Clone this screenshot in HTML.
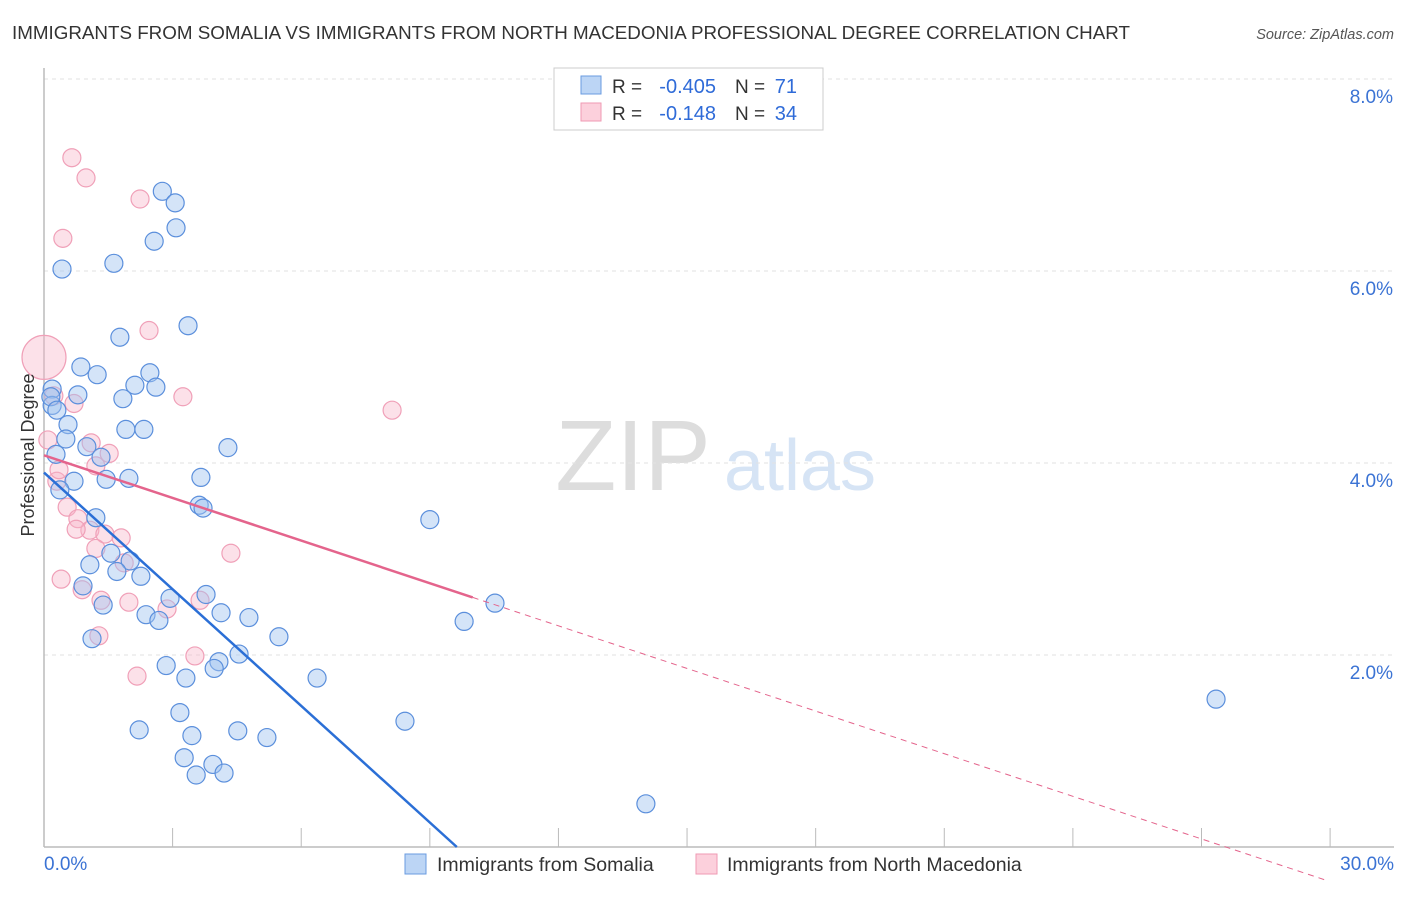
<!DOCTYPE html>
<html><head><meta charset="utf-8"><style>
body{margin:0;background:#fff;font-family:"Liberation Sans",sans-serif;}
svg text{font-family:"Liberation Sans",sans-serif;}
</style></head><body>
<svg id="chart" width="1406" height="892">
<text x="12" y="39" font-size="18.8" fill="#333">IMMIGRANTS FROM SOMALIA VS IMMIGRANTS FROM NORTH MACEDONIA PROFESSIONAL DEGREE CORRELATION CHART</text>
<text x="1394" y="39" font-size="14.5" fill="#555" font-style="italic" text-anchor="end">Source: ZipAtlas.com</text>
<text x="633" y="490" font-size="100" fill="#ddd" font-family="Liberation Serif" text-anchor="middle">ZIP</text>
<text x="800" y="490" font-size="72" fill="#d6e4f5" text-anchor="middle">atlas</text>
<g id="grid"></g>
<g id="axes"></g>
<g id="points"></g>
<g id="trends"></g>
<text transform="translate(34,455) rotate(-90)" font-size="18" fill="#333" text-anchor="middle">Professional Degree</text>
<g>
<rect x="554" y="68" width="269" height="62" fill="#fff" stroke="#ccc"/>
<rect x="581" y="76" width="20" height="18" fill="#bcd5f5" stroke="#6a9be0"/>
<rect x="581" y="103" width="20" height="18" fill="#fcd0dc" stroke="#ef9ab3"/>
<text x="612" y="93" font-size="19" fill="#333">R =</text>
<text x="716" y="93" font-size="20" fill="#2f6bd8" text-anchor="end">-0.405</text>
<text x="735" y="93" font-size="19" fill="#333">N =</text>
<text x="797" y="93" font-size="20" fill="#2f6bd8" text-anchor="end">71</text>
<text x="612" y="120" font-size="19" fill="#333">R =</text>
<text x="716" y="120" font-size="20" fill="#2f6bd8" text-anchor="end">-0.148</text>
<text x="735" y="120" font-size="19" fill="#333">N =</text>
<text x="797" y="120" font-size="20" fill="#2f6bd8" text-anchor="end">34</text>
</g>
<g>
<rect x="405" y="854" width="21" height="20" fill="#bcd5f5" stroke="#6a9be0"/>
<text x="437" y="871" font-size="19.5" fill="#333">Immigrants from Somalia</text>
<rect x="696" y="854" width="21" height="20" fill="#fcd0dc" stroke="#ef9ab3"/>
<text x="727" y="871" font-size="19.5" fill="#333">Immigrants from North Macedonia</text>
</g>
</svg>
<script>
const xTicks=[0,3,6,9,12,15,18,21,24,27,30];
const yTicks=[2,4,6,8];
const yTickLabels=["2.0%","4.0%","6.0%","8.0%"];
const somaliaX=[2.76,3.06,3.08,2.57,0.42,1.63,3.36,1.77,0.86,1.24,2.47,2.12,2.61,1.84,0.79,0.19,0.19,0.56,1.91,2.33,0.51,1.00,1.33,4.29,0.28,3.66,1.98,1.45,0.70,0.37,3.62,3.71,9.00,1.21,1.56,2.01,2.26,1.70,1.07,0.91,3.78,2.94,1.38,4.13,4.78,2.38,2.68,5.48,1.12,10.52,9.80,4.55,4.08,3.97,2.85,3.31,6.37,3.17,8.42,2.22,3.45,4.52,5.20,3.27,3.94,4.20,3.55,14.04,27.34,0.16,0.3];
const somaliaY=[6.83,6.71,6.45,6.31,6.02,6.08,5.43,5.31,5.00,4.92,4.94,4.81,4.79,4.67,4.71,4.77,4.60,4.40,4.35,4.35,4.25,4.17,4.06,4.16,4.09,3.85,3.84,3.83,3.81,3.72,3.56,3.53,3.41,3.43,3.06,2.98,2.82,2.87,2.94,2.72,2.63,2.59,2.52,2.44,2.39,2.42,2.36,2.19,2.17,2.54,2.35,2.01,1.93,1.86,1.89,1.76,1.76,1.40,1.31,1.22,1.16,1.21,1.14,0.93,0.86,0.77,0.75,0.45,1.54,4.69,4.55];
const macedX=[0.65,0.98,2.24,0.44,2.45,3.24,8.12,0,0.70,1.10,1.21,1.52,0.30,0.54,0.79,1.07,0.75,1.42,1.80,1.21,1.87,4.36,0.40,0.89,1.33,1.98,2.87,3.64,1.28,3.52,2.17,0.35,0.09,0.23];
const macedY=[7.18,6.97,6.75,6.34,5.38,4.69,4.55,5.10,4.62,4.21,3.97,4.10,3.81,3.54,3.42,3.30,3.31,3.26,3.22,3.11,2.96,3.06,2.79,2.68,2.57,2.55,2.48,2.57,2.20,1.99,1.78,3.93,4.24,4.70];
const macedR=[9,9,9,9,9,9,9,22,9,9,9,9,9,9,9,9,9,9,9,9,9,9,9,9,9,9,9,9,9,9,9,9,9,9];
const blueTrend=[3.90,-0.405];
const pinkTrend=[4.08,-0.148];
const pinkSolidEnd=10.0;
const X=v=>44+v*42.87, Y=v=>847-v*96;
const NS="http://www.w3.org/2000/svg";
function mk(parent,tag,attrs){const e=document.createElementNS(NS,tag);for(const k in attrs)e.setAttribute(k,attrs[k]);document.getElementById(parent).appendChild(e);return e;}
yTicks.forEach((t,i)=>{
 const g=mk('grid','line',{x1:44,x2:1394,y1:Y(t),y2:Y(t),stroke:'#e2e2e2','stroke-dasharray':'4,4'});
 
 
 const l=mk('grid','text',{x:1393,y:Y(t)+24,'font-size':19,fill:'#3b73d4','text-anchor':'end'});
 l.textContent=yTickLabels[i];
 
 
});
const topLine=mk('grid','line',{x1:44,x2:1394,y1:79,y2:79,stroke:'#e2e2e2','stroke-dasharray':'4,4'});


const ya=mk('axes','line',{x1:44,x2:44,y1:68,y2:847,stroke:'#bbb','stroke-width':1.5});


const xa=mk('axes','line',{x1:44,x2:1394,y1:847,y2:847,stroke:'#bbb','stroke-width':1.5});


xTicks.forEach(t=>{
 const tk=mk('axes','line',{x1:X(t),x2:X(t),y1:828,y2:847,stroke:'#bbb'});
 
 
});
const xl0=mk('axes','text',{x:44,y:870,'font-size':19,fill:'#3b73d4'});xl0.textContent=xTicks[0].toFixed(1)+'%';


const xl1=mk('axes','text',{x:1394,y:870,'font-size':19,fill:'#3b73d4','text-anchor':'end'});xl1.textContent=xTicks[xTicks.length-1].toFixed(1)+'%';


macedX.forEach((v,i)=>{
 const c=mk('points','circle',{cx:X(v),cy:Y(macedY[i]),r:macedR[i],fill:'rgba(248,180,200,0.4)',stroke:'#f0a0b8','stroke-width':1.2});
 
 
});
somaliaX.forEach((v,i)=>{
 const c=mk('points','circle',{cx:X(v),cy:Y(somaliaY[i]),r:9,fill:'rgba(160,196,240,0.45)',stroke:'#5b8fdc','stroke-width':1.2});
 
 
});
const bx1=-blueTrend[0]/blueTrend[1];
const bl=mk('trends','line',{x1:X(0),y1:Y(blueTrend[0]),x2:X(bx1),y2:Y(0),stroke:'#2b6fd6','stroke-width':2.5});


const py=x=>pinkTrend[0]+pinkTrend[1]*x;
const pl=mk('trends','line',{x1:X(0),y1:Y(py(0)),x2:X(pinkSolidEnd),y2:Y(py(pinkSolidEnd)),stroke:'#e4648c','stroke-width':2.5});


const pd=mk('trends','line',{x1:X(pinkSolidEnd),y1:Y(py(pinkSolidEnd)),x2:X(29.9),y2:Y(py(29.9)),stroke:'#e4648c','stroke-width':1,'stroke-dasharray':'6,5'});


</script>
</body></html>
